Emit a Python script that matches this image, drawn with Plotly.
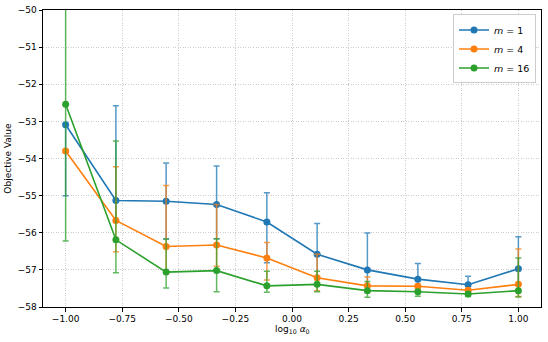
import plotly.graph_objects as go

# x positions: log10(alpha_0)
log_alpha = [-1.0, -0.778, -0.556, -0.333, -0.111, 0.111, 0.333, 0.556, 0.778, 1.0]

# m = 1
y_m1 = [-53.09, -55.13, -55.15, -55.24, -55.71, -56.58, -57.00, -57.25, -57.40, -56.97]
up_m1 = [0.03, 2.55, 1.03, 1.04, 0.79, 0.83, 0.99, 0.42, 0.23, 0.86]
lo_m1 = [1.91, 0.54, 1.02, 0.92, 1.10, 0.63, 0.43, 0.19, 0.15, 0.42]

# m = 4
y_m4 = [-53.80, -55.67, -56.37, -56.33, -56.68, -57.21, -57.43, -57.44, -57.55, -57.39]
up_m4 = [0.03, 1.45, 1.64, 1.09, 0.42, 0.63, 0.24, 0.06, 0.04, 0.95]
lo_m4 = [0.03, 0.84, 0.69, 0.57, 0.59, 0.35, 0.13, 0.06, 0.04, 0.33]

# m = 16
y_m16 = [-52.54, -56.19, -57.06, -57.02, -57.43, -57.39, -57.56, -57.59, -57.65, -57.56]
up_m16 = [3.00, 2.66, 0.89, 0.86, 0.39, 0.35, 0.25, 0.05, 0.05, 0.88]
lo_m16 = [3.68, 0.89, 0.43, 0.57, 0.17, 0.20, 0.18, 0.12, 0.07, 0.17]

series = [
    ("<i>m</i> = 1", y_m1, up_m1, lo_m1, "#1f77b4", "rgba(31,119,180,0.75)"),
    ("<i>m</i> = 4", y_m4, up_m4, lo_m4, "#ff7f0e", "rgba(255,127,14,0.75)"),
    ("<i>m</i> = 16", y_m16, up_m16, lo_m16, "#2ca02c", "rgba(44,160,44,0.75)"),
]

fig = go.Figure()
for name, y, up, lo, col, ecol in series:
    fig.add_trace(go.Scatter(
        x=log_alpha, y=y, name=name, mode="lines+markers",
        line=dict(color=col, width=1.6),
        marker=dict(color=col, size=7),
        error_y=dict(type="data", symmetric=False, array=up, arrayminus=lo,
                     color=ecol, thickness=1.5, width=3),
    ))

axis_common = dict(
    showline=True, linecolor="black", linewidth=1, mirror=True,
    ticks="outside", ticklen=3.5, tickcolor="black",
    showgrid=True, gridcolor="#cccccc", griddash="1px,1.5px", gridwidth=0.8,
    zeroline=False, tickfont=dict(size=9, color="black"), automargin=False,
)

fig.update_layout(
    width=548, height=342,
    margin=dict(l=43, r=7, t=10, b=35),
    paper_bgcolor="white", plot_bgcolor="white",
    font=dict(family="DejaVu Sans", size=9, color="black"),
    xaxis=dict(range=[-1.1, 1.1], tickmode="array",
               tickvals=[-1.0, -0.75, -0.5, -0.25, 0.0, 0.25, 0.5, 0.75, 1.0],
               tickformat=".2f", **axis_common),
    yaxis=dict(range=[-58, -50], dtick=1, **axis_common),
    legend=dict(x=0.99, y=0.985, xanchor="right", yanchor="top",
                bgcolor="rgba(255,255,255,0.85)", bordercolor="#cccccc", borderwidth=1,
                font=dict(size=9.5), tracegroupgap=0, itemwidth=30),
    showlegend=True,
)

# axis titles as annotations so they sit where the reference has them
fig.add_annotation(text="log<sub>10</sub> <i>α</i><sub>0</sub>", xref="paper", yref="paper",
                   x=0.5, y=-0.075, xanchor="center", yanchor="middle",
                   showarrow=False, font=dict(size=9))
fig.add_annotation(text="Objective Value", xref="paper", yref="paper",
                   x=-0.072, y=0.5, xanchor="center", yanchor="middle", textangle=-90,
                   showarrow=False, font=dict(size=9))

# drop the browser's default body margin so the figure sits at the window corner
fig.write_html("out.html", config={"displayModeBar": False},
               post_script="document.body.style.margin='0';")
